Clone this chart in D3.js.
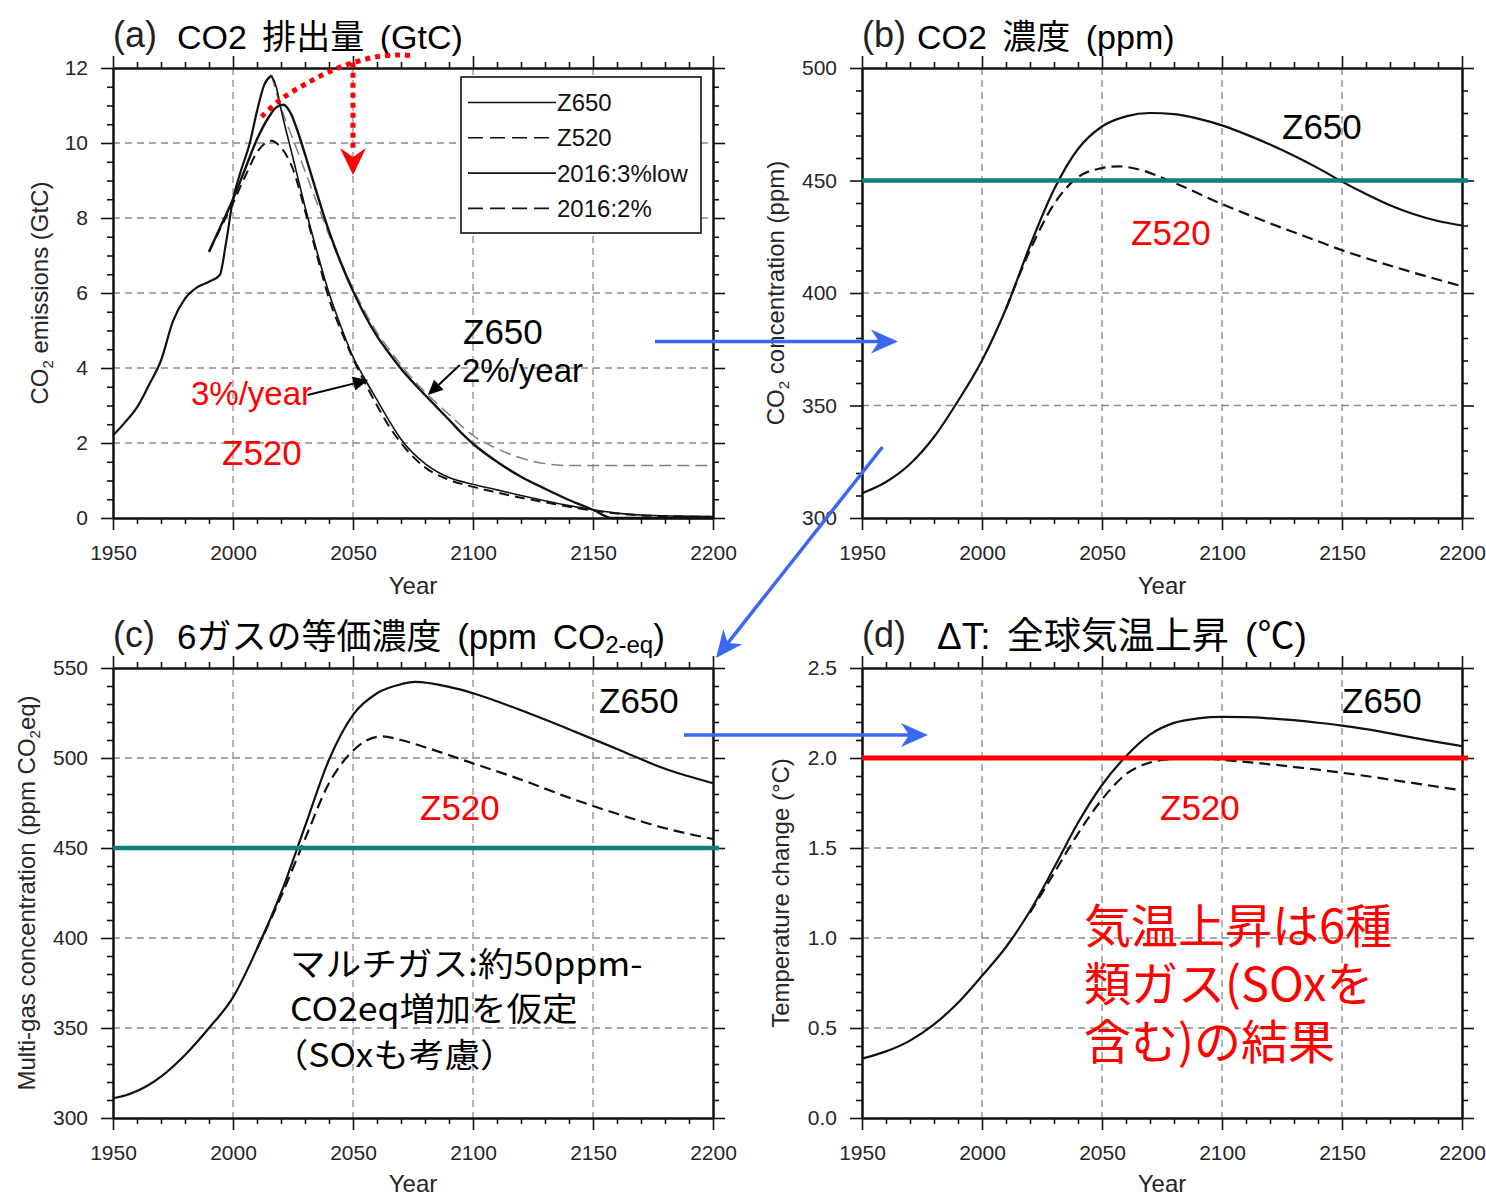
<!DOCTYPE html>
<html>
<head>
<meta charset="utf-8">
<script src="https://cdn.jsdelivr.net/npm/d3@7"></script>
<style>
  html, body { margin: 0; padding: 0; background: #fff; }
  svg { display: block; }
  text { font-family: "Liberation Sans", Arial, Helvetica, sans-serif; }
  .jp { font-family: "Noto Sans CJK JP", "Noto Sans", sans-serif; }
  .mix { font-family: "Liberation Sans", "Noto Sans CJK JP", sans-serif; }
</style>
</head>
<body>
<svg id="chart" width="1486" height="1195"></svg>
<script>
// ---------------- data ----------------
// (a) CO2 emissions, GtC
const emisHistYear = [1950, 1955, 1960, 1965, 1970, 1975, 1980, 1985, 1990, 1994.5, 1997, 2000, 2003, 2007, 2010, 2013, 2016];
const emisHistGtC  = [2.2, 2.55, 2.95, 3.55, 4.2, 5.25, 5.85, 6.15, 6.3, 6.48, 7.3, 8.5, 9.2, 10.0, 10.85, 11.55, 11.8];

const emisZ650Year = [1990, 1995, 2000, 2005, 2010, 2015, 2018, 2021, 2024, 2027, 2030, 2035, 2040, 2045, 2050, 2055, 2060, 2065, 2070, 2075, 2080, 2085, 2090, 2095, 2100, 2110, 2120, 2130, 2140, 2150, 2158, 2200];
const emisZ650GtC  = [7.1, 7.8, 8.5, 9.3, 10.1, 10.7, 10.95, 11.02, 10.8, 10.3, 9.7, 8.65, 7.65, 6.8, 6.05, 5.4, 4.85, 4.4, 3.98, 3.62, 3.28, 2.95, 2.62, 2.28, 1.98, 1.5, 1.1, 0.78, 0.48, 0.22, 0.0, 0.0];

const emisZ520Year = [1990, 1995, 2000, 2005, 2010, 2014, 2016, 2019, 2022, 2025, 2030, 2035, 2040, 2045, 2050, 2055, 2060, 2065, 2070, 2080, 2090, 2100, 2110, 2120, 2130, 2140, 2150, 2160, 2170, 2185, 2200];
const emisZ520GtC  = [7.1, 7.75, 8.4, 9.1, 9.75, 10.02, 10.06, 9.95, 9.7, 9.3, 8.2, 7.0, 5.85, 5.0, 4.25, 3.6, 3.0, 2.45, 2.0, 1.35, 1.02, 0.83, 0.68, 0.54, 0.42, 0.3, 0.2, 0.12, 0.07, 0.04, 0.03];

const emis3pctYear = [2016, 2018, 2020, 2025, 2030, 2035, 2040, 2045, 2050, 2055, 2060, 2065, 2070, 2080, 2090, 2100, 2110, 2120, 2130, 2140, 2150, 2160, 2170, 2185, 2200];
const emis3pctGtC  = [11.8, 11.5, 10.9, 9.6, 8.3, 7.1, 6.0, 5.1, 4.3, 3.7, 3.15, 2.6, 2.1, 1.45, 1.08, 0.9, 0.75, 0.6, 0.46, 0.33, 0.22, 0.13, 0.08, 0.05, 0.04];

const emis2pctYear = [2016, 2020, 2025, 2030, 2035, 2040, 2045, 2050, 2055, 2060, 2065, 2070, 2075, 2080, 2090, 2100, 2110, 2120, 2130, 2140, 2150, 2200];
const emis2pctGtC  = [11.8, 10.95, 10.1, 9.25, 8.4, 7.55, 6.8, 6.12, 5.5, 4.95, 4.5, 4.08, 3.7, 3.36, 2.76, 2.2, 1.85, 1.6, 1.45, 1.4, 1.4, 1.4];

const legendLabels = ["Z650", "Z520", "2016:3%low", "2016:2%"];

// (b) CO2 concentration, ppm
const co2Z650Year = [1950, 1960, 1970, 1980, 1990, 2000, 2010, 2020, 2030, 2040, 2050, 2060, 2070, 2080, 2090, 2100, 2110, 2120, 2130, 2140, 2150, 2160, 2170, 2180, 2190, 2200];
const co2Z650Ppm  = [311, 316, 324, 336, 352, 370, 393, 421, 446, 464, 474, 478.5, 480, 479.5, 477.5, 474.5, 470.5, 466, 461, 455.5, 449.5, 444, 439, 435, 432, 430];
const co2Z520Year = [2010, 2020, 2030, 2040, 2050, 2057, 2065, 2080, 2100, 2120, 2140, 2150, 2160, 2180, 2200];
const co2Z520Ppm  = [393, 419, 439.5, 451.5, 455.5, 456.3, 455, 449, 439.5, 431, 423, 419, 415.5, 409, 403];

// (c) six-gas CO2-equivalent concentration, ppm
const ghgZ650Year = [1950, 1955, 1960, 1965, 1970, 1980, 1990, 2000, 2010, 2020, 2030, 2040, 2050, 2060, 2070, 2076, 2090, 2100, 2120, 2140, 2160, 2180, 2200];
const ghgZ650Ppm  = [311, 312.5, 315, 318.5, 323, 335, 350, 367, 394, 425, 462, 499, 524, 536, 541, 542.3, 539.5, 536, 526.5, 516, 505, 494, 486];
const ghgZ520Year = [2010, 2020, 2030, 2040, 2050, 2056, 2062, 2070, 2080, 2100, 2120, 2140, 2160, 2180, 2200];
const ghgZ520Ppm  = [394, 423, 455, 486, 504, 510, 512, 510, 506, 497, 488, 478, 469, 461, 455];

// (d) global temperature rise, degC
const tempZ650Year = [1950, 1960, 1970, 1980, 1990, 2000, 2010, 2020, 2030, 2040, 2050, 2060, 2070, 2080, 2090, 2100, 2110, 2120, 2130, 2140, 2150, 2160, 2170, 2180, 2190, 2200];
const tempZ650C    = [0.33, 0.37, 0.43, 0.52, 0.64, 0.79, 0.95, 1.15, 1.39, 1.64, 1.85, 2.01, 2.13, 2.195, 2.22, 2.228, 2.227, 2.22, 2.21, 2.196, 2.18, 2.16, 2.137, 2.112, 2.088, 2.066];
const tempZ520Year = [2020, 2030, 2040, 2050, 2060, 2070, 2080, 2090, 2100, 2120, 2140, 2160, 2180, 2200];
const tempZ520C    = [1.14, 1.36, 1.58, 1.77, 1.91, 1.975, 1.995, 2.0, 1.99, 1.965, 1.935, 1.9, 1.86, 1.82];

// reference levels
const co2Limit = 450;
const ghgLimit = 450;
const tempLimit = 2.0;

// axis ticks
const yearMajor = [1950, 2000, 2050, 2100, 2150, 2200];
const emisTicks = [0, 2, 4, 6, 8, 10, 12];
const co2Ticks  = [300, 350, 400, 450, 500];
const ghgTicks  = [300, 350, 400, 450, 500, 550];
const tempTicks = [0, 0.5, 1.0, 1.5, 2.0, 2.5];

// ---------------- drawing ----------------
const svg = d3.select("#chart");
const zip = (xs, ys) => xs.map((x, i) => [x, ys[i]]);

// text runs; an array element marks a subscript run
function richText(sel, parts, subSize, shift) {
  let back = 0;
  parts.forEach(p => {
    const isSub = Array.isArray(p);
    const t = sel.append("tspan").text(isSub ? p[0] : p);
    if (isSub) { t.attr("font-size", subSize).attr("dy", shift); back = shift; }
    else if (back) { t.attr("dy", -back); back = 0; }
  });
  return sel;
}

function makePanel(cfg) {
  const g = svg.append("g");
  const x = d3.scaleLinear().domain([1950, 2200]).range([cfg.left, cfg.left + 600]);
  const y = d3.scaleLinear().domain(cfg.yDomain).range([cfg.top + 450, cfg.top]);
  const [xl, xr] = x.range();
  const [yb, yt] = y.range();

  // dashed grid at the inner major ticks
  const grid = g.append("g").attr("stroke", "#8a8a8a").attr("stroke-width", 1.3).attr("stroke-dasharray", "7,5");
  yearMajor.slice(1, -1).forEach(v => grid.append("line").attr("x1", x(v)).attr("x2", x(v)).attr("y1", yt).attr("y2", yb));
  cfg.yTicks.slice(1, -1).forEach(v => grid.append("line").attr("x1", xl).attr("x2", xr).attr("y1", y(v)).attr("y2", y(v)));

  // axes: outward ticks, minor + major on all four sides
  const xMinor = d3.range(1950, 2201, 10).filter(v => v % 50 !== 0);
  const [d0, d1] = cfg.yDomain;
  const n = Math.round((d1 - d0) / cfg.yMinorStep);
  const yMinor = d3.range(n + 1).map(i => +(d0 + i * cfg.yMinorStep).toFixed(4))
    .filter(v => !cfg.yTicks.some(t => Math.abs(t - v) < 1e-6));

  const axes = g.append("g");
  const add = (axis, tr) => axes.append("g").attr("transform", tr).call(axis);
  add(d3.axisBottom(x).tickValues(xMinor).tickSize(6).tickSizeOuter(0).tickFormat(""), `translate(0,${yb})`);
  add(d3.axisBottom(x).tickValues(yearMajor).tickSize(12).tickSizeOuter(0).tickPadding(15).tickFormat(d3.format("d")), `translate(0,${yb})`);
  add(d3.axisTop(x).tickValues(xMinor).tickSize(6).tickSizeOuter(0).tickFormat(""), `translate(0,${yt})`);
  add(d3.axisTop(x).tickValues(yearMajor).tickSize(12).tickSizeOuter(0).tickFormat(""), `translate(0,${yt})`);
  add(d3.axisLeft(y).tickValues(yMinor).tickSize(6).tickSizeOuter(0).tickFormat(""), `translate(${xl},0)`);
  add(d3.axisLeft(y).tickValues(cfg.yTicks).tickSize(12).tickSizeOuter(0).tickPadding(13).tickFormat(cfg.fmt), `translate(${xl},0)`);
  add(d3.axisRight(y).tickValues(yMinor).tickSize(6).tickSizeOuter(0).tickFormat(""), `translate(${xr},0)`);
  add(d3.axisRight(y).tickValues(cfg.yTicks).tickSize(12).tickSizeOuter(0).tickFormat(""), `translate(${xr},0)`);
  axes.selectAll(".domain").attr("stroke", "#111").attr("stroke-width", 2);
  axes.selectAll(".tick line").attr("stroke", "#111").attr("stroke-width", 1.6);
  axes.selectAll(".tick text").filter(function () { return this.textContent === ""; }).remove();
  axes.selectAll(".tick text").attr("font-size", 21).attr("fill", "#262626")
      .attr("font-family", "'Liberation Sans', Arial, sans-serif");

  // axis titles
  g.append("text").attr("x", (xl + xr) / 2).attr("y", yb + (cfg.xLabelDy || 76)).attr("text-anchor", "middle")
    .attr("font-size", 24).attr("fill", "#262626").text("Year");
  const yl = g.append("text")
    .attr("transform", `translate(${cfg.yLabelX},${(yt + yb) / 2}) rotate(-90)`)
    .attr("text-anchor", "middle").attr("font-size", 24).attr("fill", "#262626");
  richText(yl, cfg.yLabel, 15, 5);

  // panel tag and title
  g.append("text").attr("x", xl).attr("y", yt - 21).attr("font-size", 36).attr("fill", "#222").text(cfg.tag);
  const tt = g.append("text").attr("class", "mix").attr("x", cfg.titleX).attr("y", yt - 19)
    .attr("font-size", cfg.titleSize).attr("word-spacing", 6).attr("fill", "#000");
  richText(tt, cfg.title, 24, 4);

  return { g, x, y };
}

const line = (x, y, curve) => d3.line().x(d => x(d[0])).y(d => y(d[1])).curve(curve || d3.curveMonotoneX);

function series(p, data, opt) {
  p.g.append("path").datum(data).attr("fill", "none")
    .attr("stroke", opt.color || "#111").attr("stroke-width", opt.width || 2.2)
    .attr("stroke-dasharray", opt.dash || null)
    .attr("d", line(p.x, p.y, opt.curve)(data));
}

function hline(p, v, color, w) {
  p.g.append("line").attr("x1", p.x(1950)).attr("x2", p.x(2200) + 6)
    .attr("y1", p.y(v)).attr("y2", p.y(v)).attr("stroke", color).attr("stroke-width", w);
}

function label(p, txt, xx, yy, size, color, cls) {
  const t = p.g.append("text").attr("x", xx).attr("y", yy).attr("font-size", size).attr("fill", color).text(txt);
  if (cls) t.attr("class", cls);
  return t;
}

// multi-line note as one text element
function note(p, lines, tr, size, color) {
  const t = p.g.append("text").attr("class", "jp").attr("transform", tr).attr("font-size", size).attr("fill", color);
  lines.forEach(l => t.append("tspan").attr("x", l[1]).attr("y", l[2]).text(l[0]));
  return t;
}

// stealth arrowhead pointing from (x1,y1) to (x2,y2)
function arrowHead(g, x1, y1, x2, y2, len, half, notch, color) {
  const a = Math.atan2(y2 - y1, x2 - x1), c = Math.cos(a), s = Math.sin(a);
  const bx = x2 - len * c, by = y2 - len * s;
  const pts = [[x2, y2], [bx - half * s, by + half * c], [x2 - (len - notch) * c, y2 - (len - notch) * s], [bx + half * s, by - half * c]];
  g.append("polygon").attr("points", pts.map(q => q.join(",")).join(" ")).attr("fill", color);
}
function arrow(g, x1, y1, x2, y2, color, w, len, half, notch) {
  const a = Math.atan2(y2 - y1, x2 - x1);
  g.append("line").attr("x1", x1).attr("y1", y1)
    .attr("x2", x2 - (len - notch) * Math.cos(a)).attr("y2", y2 - (len - notch) * Math.sin(a))
    .attr("stroke", color).attr("stroke-width", w);
  arrowHead(g, x1, y1, x2, y2, len, half, notch, color);
}

// ---- (a) emissions ----
const pa = makePanel({
  left: 113, top: 68, yDomain: [0, 12], yTicks: emisTicks, yMinorStep: 0.5, fmt: d3.format("d"),
  yLabelX: 48, yLabel: ["CO", ["2"], " emissions (GtC)"], tag: "(a)", titleX: 177, titleSize: 34,
  title: ["CO2 排出量 (GtC)"]
});
series(pa, zip(emisHistYear, emisHistGtC), { width: 2.2 });
series(pa, zip(emis2pctYear, emis2pctGtC), { width: 1.5, dash: "12,6", color: "#808080" });
series(pa, zip(emis3pctYear, emis3pctGtC), { width: 1.6 });
series(pa, zip(emisZ520Year, emisZ520GtC), { width: 2, dash: "10,6" });
series(pa, zip(emisZ650Year, emisZ650GtC), { width: 2.4 });

// legend
const lg = pa.g.append("g");
lg.append("rect").attr("x", 461).attr("y", 77).attr("width", 240).attr("height", 156)
  .attr("fill", "#fff").attr("stroke", "#111").attr("stroke-width", 1.6);
const legendDash = [null, "15,7", null, "15,7"];
legendLabels.forEach((t, i) => {
  const yy = 102.5 + i * 35.3;
  lg.append("line").attr("x1", 468).attr("x2", 556).attr("y1", yy).attr("y2", yy)
    .attr("stroke", "#111").attr("stroke-width", 1.6).attr("stroke-dasharray", legendDash[i]);
  lg.append("text").attr("x", 557).attr("y", yy).attr("dy", "0.36em").attr("font-size", 24).attr("fill", "#111").text(t);
});

// red dotted path with downward arrow
const arcYear = [2011.9, 2019.6, 2030.7, 2041.8, 2050, 2059.9, 2069.6, 2075.8];
const arcVal  = [10.7, 11.15, 11.59, 11.95, 12.14, 12.3, 12.35, 12.32];
pa.g.append("path").datum(zip(arcYear, arcVal)).attr("fill", "none").attr("stroke", "#f00")
  .attr("stroke-width", 5).attr("stroke-dasharray", "5,5")
  .attr("d", line(pa.x, pa.y, d3.curveCatmullRom));
pa.g.append("line").attr("x1", pa.x(2050)).attr("x2", pa.x(2050)).attr("y1", pa.y(12.14)).attr("y2", pa.y(9.75))
  .attr("stroke", "#f00").attr("stroke-width", 5).attr("stroke-dasharray", "5,5");
arrowHead(pa.g, pa.x(2050), pa.y(11), pa.x(2050), pa.y(9.15), 27, 13, 9, "#f00");

// annotations
label(pa, "Z650", 463, 344, 35, "#000");
label(pa, "2%/year", 462, 382, 33, "#000");
arrow(pa.g, pa.x(2094.5), pa.y(4.08), pa.x(2081.2), pa.y(3.28), "#000", 2, 15, 7, 0);
label(pa, "3%/year", 191, 405, 33, "#f00");
arrow(pa.g, pa.x(2031.1), pa.y(3.28), pa.x(2056.3), pa.y(3.68), "#000", 2, 15, 7, 0);
label(pa, "Z520", 222, 465, 35, "#f00");

// ---- (b) CO2 concentration ----
const pb = makePanel({
  left: 862, top: 68, yDomain: [300, 500], yTicks: co2Ticks, yMinorStep: 10, fmt: d3.format("d"),
  yLabelX: 784, yLabel: ["CO", ["2"], " concentration (ppm)"], tag: "(b)", titleX: 917, titleSize: 34,
  title: ["CO2 濃度 (ppm)"]
});
series(pb, zip(co2Z520Year, co2Z520Ppm), { dash: "11,6" });
series(pb, zip(co2Z650Year, co2Z650Ppm), {});
hline(pb, co2Limit, "#0b7f7c", 4.5);
label(pb, "Z650", 1282, 139, 35, "#000");
label(pb, "Z520", 1131, 245, 35, "#f00");

// ---- (c) multi-gas concentration ----
const pc = makePanel({
  left: 113, top: 668, yDomain: [300, 550], yTicks: ghgTicks, yMinorStep: 10, fmt: d3.format("d"),
  yLabelX: 35, yLabel: ["Multi-gas concentration (ppm CO", ["2"], "eq)"], tag: "(c)", titleX: 177, titleSize: 35,
  title: ["6ガスの等価濃度 (ppm CO", ["2-eq"], ")"], xLabelDy: 74
});
series(pc, zip(ghgZ520Year, ghgZ520Ppm), { dash: "11,6" });
series(pc, zip(ghgZ650Year, ghgZ650Ppm), {});
hline(pc, ghgLimit, "#0b7f7c", 4.5);
label(pc, "Z650", 599, 713, 35, "#000");
label(pc, "Z520", 420, 820, 35, "#f00");
note(pc, [["マルチガス:約50ppm-", 0, 976], ["CO2eq増加を仮定", 0, 1021], ["（SOxも考慮）", -16, 1067]],
     "translate(290,0) scale(1.08,1)", 33, "#000");

// ---- (d) temperature ----
const pd = makePanel({
  left: 862, top: 668, yDomain: [0, 2.5], yTicks: tempTicks, yMinorStep: 0.1, fmt: d3.format(".1f"),
  yLabelX: 789, yLabel: ["Temperature change (°C)"], tag: "(d)", titleX: 937, titleSize: 37,
  title: ["ΔT: 全球気温上昇 (℃)"], xLabelDy: 74
});
series(pd, zip(tempZ520Year, tempZ520C), { dash: "11,6" });
series(pd, zip(tempZ650Year, tempZ650C), {});
hline(pd, tempLimit, "#f00", 5);
label(pd, "Z650", 1342, 713, 35, "#000");
label(pd, "Z520", 1160, 820, 35, "#f00");
note(pd, [["気温上昇は6種", 1084, 943], ["類ガス(SOxを", 1084, 1001], ["含む)の結果", 1084, 1059]],
     null, 47, "#f00");

// ---- flow arrows between panels ----
const blue = "#3a68f2";
const fl = svg.append("g");
arrow(fl, 655, 341.5, 898, 341.5, blue, 3.5, 27, 12, 8);
arrow(fl, 882.5, 447, 716, 658, blue, 3.5, 27, 12, 8);
arrow(fl, 684, 735, 928, 735, blue, 3.5, 27, 12, 8);
</script>
</body>
</html>
